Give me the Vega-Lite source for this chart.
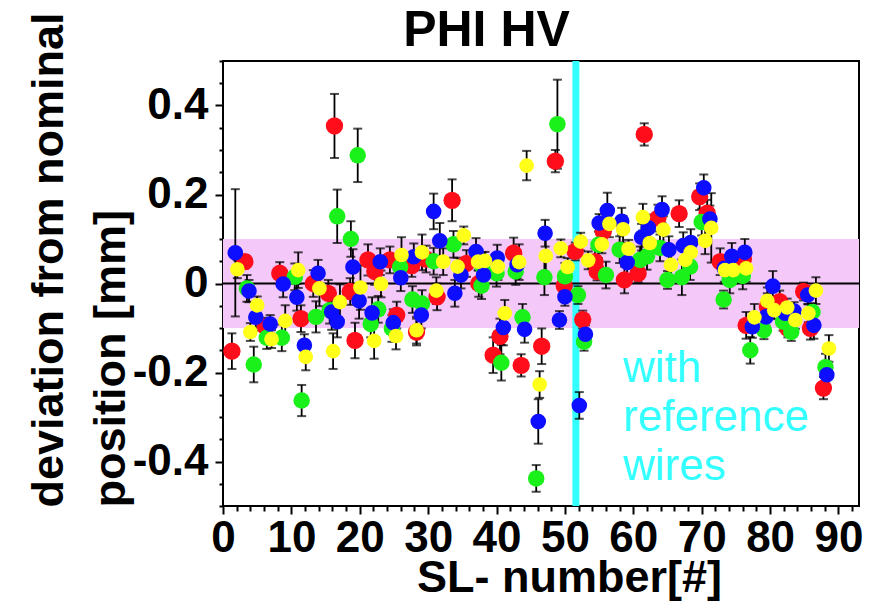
{
  "$schema": "https://vega.github.io/schema/vega-lite/v6.json",
  "width": 636,
  "height": 445,
  "autosize": {"type": "none"},
  "padding": {"left": 223, "top": 61, "right": 28, "bottom": 95},
  "background": "white",
  "config": {"view": {"stroke": "black", "strokeWidth": 2}, "font": "Liberation Sans"},
  "resolve": {"axis": {"x": "independent", "y": "independent"}},
  "datasets": {
    "band": [{"lo": -0.1, "hi": 0.1}],
    "ref": [{"x": 51.6}],
    "zero": [{"y": 0}],
    "note": [{"x": 58.5, "y": -0.221, "t": "with\nreference\nwires"}],
    "pts": [
      {"s":"red","x":1.3,"y":-0.152,"e":0.04},
      {"s":"red","x":3.2,"y":0.049,"e":0.015},
      {"s":"red","x":6.2,"y":-0.097,"e":0.02},
      {"s":"red","x":8.3,"y":0.023,"e":0.025},
      {"s":"red","x":11.4,"y":-0.079,"e":0.03},
      {"s":"red","x":13.2,"y":0.0,"e":0.03},
      {"s":"red","x":15.4,"y":-0.022,"e":0.03},
      {"s":"red","x":16.3,"y":0.354,"e":0.072},
      {"s":"red","x":18.6,"y":-0.018,"e":0.03},
      {"s":"red","x":19.3,"y":-0.128,"e":0.04},
      {"s":"red","x":21.2,"y":0.053,"e":0.035},
      {"s":"red","x":22.2,"y":0.027,"e":0.03},
      {"s":"red","x":24.4,"y":0.053,"e":0.03},
      {"s":"red","x":25.4,"y":-0.071,"e":0.03},
      {"s":"red","x":27.6,"y":0.04,"e":0.025},
      {"s":"red","x":28.3,"y":-0.109,"e":0.03},
      {"s":"red","x":29.7,"y":0.055,"e":0.03},
      {"s":"red","x":31.3,"y":-0.03,"e":0.03},
      {"s":"red","x":33.5,"y":0.187,"e":0.047},
      {"s":"red","x":35.6,"y":0.045,"e":0.03},
      {"s":"red","x":37.4,"y":0.0,"e":0.03},
      {"s":"red","x":39.5,"y":-0.161,"e":0.04},
      {"s":"red","x":40.5,"y":-0.119,"e":0.04},
      {"s":"red","x":42.5,"y":0.068,"e":0.035},
      {"s":"red","x":43.6,"y":-0.184,"e":0.025},
      {"s":"red","x":46.6,"y":-0.141,"e":0.04},
      {"s":"red","x":48.6,"y":0.275,"e":0.025},
      {"s":"red","x":49.9,"y":-0.005,"e":0.03},
      {"s":"red","x":51.5,"y":0.072,"e":0.02},
      {"s":"red","x":52.6,"y":-0.081,"e":0.02},
      {"s":"red","x":54.4,"y":0.049,"e":0.03},
      {"s":"red","x":54.7,"y":0.027,"e":0.02},
      {"s":"red","x":55.6,"y":0.117,"e":0.02},
      {"s":"red","x":58.7,"y":0.008,"e":0.03},
      {"s":"red","x":60.7,"y":0.023,"e":0.02},
      {"s":"red","x":61.6,"y":0.335,"e":0.025},
      {"s":"red","x":63.6,"y":0.147,"e":0.03},
      {"s":"red","x":66.7,"y":0.157,"e":0.03},
      {"s":"red","x":69.7,"y":0.195,"e":0.03},
      {"s":"red","x":70.8,"y":0.158,"e":0.03},
      {"s":"red","x":72.7,"y":0.049,"e":0.03},
      {"s":"red","x":76.1,"y":0.055,"e":0.02},
      {"s":"red","x":76.5,"y":-0.094,"e":0.03},
      {"s":"red","x":79.6,"y":-0.052,"e":0.03},
      {"s":"red","x":81.4,"y":-0.041,"e":0.025},
      {"s":"red","x":82.6,"y":-0.101,"e":0.02},
      {"s":"red","x":84.9,"y":-0.018,"e":0.02},
      {"s":"red","x":85.9,"y":-0.101,"e":0.025},
      {"s":"red","x":87.8,"y":-0.235,"e":0.025},
      {"s":"green","x":3.5,"y":-0.011,"e":0.03},
      {"s":"green","x":4.5,"y":-0.182,"e":0.04},
      {"s":"green","x":6.4,"y":-0.122,"e":0.025},
      {"s":"green","x":8.6,"y":-0.122,"e":0.03},
      {"s":"green","x":10.5,"y":0.015,"e":0.03},
      {"s":"green","x":11.5,"y":-0.263,"e":0.035},
      {"s":"green","x":13.6,"y":-0.075,"e":0.035},
      {"s":"green","x":15.6,"y":-0.06,"e":0.03},
      {"s":"green","x":16.7,"y":0.151,"e":0.06},
      {"s":"green","x":18.7,"y":0.1,"e":0.04},
      {"s":"green","x":19.7,"y":0.288,"e":0.06},
      {"s":"green","x":21.6,"y":-0.091,"e":0.03},
      {"s":"green","x":22.7,"y":-0.058,"e":0.03},
      {"s":"green","x":24.7,"y":-0.101,"e":0.03},
      {"s":"green","x":25.9,"y":0.037,"e":0.03},
      {"s":"green","x":27.7,"y":-0.036,"e":0.03},
      {"s":"green","x":29.1,"y":-0.045,"e":0.03},
      {"s":"green","x":30.8,"y":0.05,"e":0.03},
      {"s":"green","x":33.7,"y":0.088,"e":0.03},
      {"s":"green","x":37.8,"y":-0.005,"e":0.03},
      {"s":"green","x":37.9,"y":0.04,"e":0.03},
      {"s":"green","x":40.0,"y":0.023,"e":0.03},
      {"s":"green","x":40.7,"y":-0.178,"e":0.04},
      {"s":"green","x":42.8,"y":0.027,"e":0.03},
      {"s":"green","x":43.8,"y":-0.076,"e":0.03},
      {"s":"green","x":45.8,"y":-0.438,"e":0.03},
      {"s":"green","x":47.0,"y":0.014,"e":0.04},
      {"s":"green","x":48.9,"y":0.358,"e":0.1},
      {"s":"green","x":50.0,"y":0.016,"e":0.03},
      {"s":"green","x":51.9,"y":-0.026,"e":0.02},
      {"s":"green","x":52.8,"y":-0.131,"e":0.02},
      {"s":"green","x":54.9,"y":0.087,"e":0.03},
      {"s":"green","x":56.0,"y":0.019,"e":0.03},
      {"s":"green","x":58.0,"y":0.076,"e":0.03},
      {"s":"green","x":61.0,"y":0.053,"e":0.03},
      {"s":"green","x":62.0,"y":0.061,"e":0.03},
      {"s":"green","x":63.9,"y":0.08,"e":0.03},
      {"s":"green","x":65.0,"y":0.008,"e":0.02},
      {"s":"green","x":67.1,"y":0.014,"e":0.04},
      {"s":"green","x":68.3,"y":0.038,"e":0.03},
      {"s":"green","x":70.0,"y":0.138,"e":0.03},
      {"s":"green","x":73.2,"y":-0.036,"e":0.02},
      {"s":"green","x":74.1,"y":0.008,"e":0.03},
      {"s":"green","x":76.0,"y":0.017,"e":0.03},
      {"s":"green","x":77.1,"y":-0.15,"e":0.03},
      {"s":"green","x":79.1,"y":-0.105,"e":0.02},
      {"s":"green","x":81.9,"y":-0.086,"e":0.02},
      {"s":"green","x":83.1,"y":-0.109,"e":0.02},
      {"s":"green","x":86.2,"y":-0.064,"e":0.02},
      {"s":"green","x":88.1,"y":-0.188,"e":0.03},
      {"s":"blue","x":1.8,"y":0.069,"e":0.143},
      {"s":"blue","x":3.8,"y":-0.017,"e":0.025},
      {"s":"blue","x":4.8,"y":-0.076,"e":0.03},
      {"s":"blue","x":6.9,"y":-0.091,"e":0.02},
      {"s":"blue","x":8.8,"y":-0.001,"e":0.03},
      {"s":"blue","x":10.8,"y":-0.031,"e":0.03},
      {"s":"blue","x":11.9,"y":-0.139,"e":0.025},
      {"s":"blue","x":13.9,"y":0.023,"e":0.03},
      {"s":"blue","x":15.9,"y":-0.064,"e":0.04},
      {"s":"blue","x":16.7,"y":-0.086,"e":0.035},
      {"s":"blue","x":19.0,"y":0.037,"e":0.04},
      {"s":"blue","x":19.9,"y":-0.039,"e":0.04},
      {"s":"blue","x":21.8,"y":-0.066,"e":0.035},
      {"s":"blue","x":23.0,"y":0.049,"e":0.03},
      {"s":"blue","x":24.9,"y":-0.088,"e":0.03},
      {"s":"blue","x":26.0,"y":0.013,"e":0.03},
      {"s":"blue","x":27.9,"y":0.06,"e":0.03},
      {"s":"blue","x":29.0,"y":-0.071,"e":0.03},
      {"s":"blue","x":30.8,"y":0.162,"e":0.04},
      {"s":"blue","x":31.7,"y":0.096,"e":0.04},
      {"s":"blue","x":33.9,"y":-0.022,"e":0.03},
      {"s":"blue","x":34.8,"y":0.019,"e":0.03},
      {"s":"blue","x":37.0,"y":0.072,"e":0.03},
      {"s":"blue","x":38.1,"y":0.019,"e":0.03},
      {"s":"blue","x":40.1,"y":0.057,"e":0.03},
      {"s":"blue","x":41.0,"y":-0.099,"e":0.04},
      {"s":"blue","x":43.0,"y":0.042,"e":0.03},
      {"s":"blue","x":44.1,"y":-0.103,"e":0.03},
      {"s":"blue","x":46.1,"y":-0.31,"e":0.05},
      {"s":"blue","x":47.1,"y":0.113,"e":0.03},
      {"s":"blue","x":49.2,"y":-0.082,"e":0.02},
      {"s":"blue","x":50.0,"y":-0.03,"e":0.02},
      {"s":"blue","x":52.1,"y":-0.274,"e":0.03},
      {"s":"blue","x":53.0,"y":-0.114,"e":0.02},
      {"s":"blue","x":55.0,"y":0.136,"e":0.02},
      {"s":"blue","x":56.2,"y":0.164,"e":0.04},
      {"s":"blue","x":58.3,"y":0.14,"e":0.03},
      {"s":"blue","x":59.1,"y":0.047,"e":0.03},
      {"s":"blue","x":61.2,"y":0.104,"e":0.03},
      {"s":"blue","x":62.2,"y":0.125,"e":0.03},
      {"s":"blue","x":64.2,"y":0.166,"e":0.03},
      {"s":"blue","x":65.2,"y":0.076,"e":0.03},
      {"s":"blue","x":67.3,"y":0.085,"e":0.03},
      {"s":"blue","x":68.4,"y":0.092,"e":0.03},
      {"s":"blue","x":70.3,"y":0.215,"e":0.03},
      {"s":"blue","x":71.2,"y":0.145,"e":0.03},
      {"s":"blue","x":73.3,"y":0.034,"e":0.03},
      {"s":"blue","x":74.4,"y":0.061,"e":0.03},
      {"s":"blue","x":76.3,"y":0.07,"e":0.03},
      {"s":"blue","x":77.4,"y":-0.097,"e":0.025},
      {"s":"blue","x":79.4,"y":-0.075,"e":0.02},
      {"s":"blue","x":80.4,"y":-0.006,"e":0.034},
      {"s":"blue","x":82.2,"y":-0.067,"e":0.02},
      {"s":"blue","x":83.5,"y":-0.062,"e":0.02},
      {"s":"blue","x":85.5,"y":-0.026,"e":0.02},
      {"s":"blue","x":86.4,"y":-0.094,"e":0.03},
      {"s":"blue","x":88.3,"y":-0.205,"e":0.03},
      {"s":"yellow","x":2.1,"y":0.032,"e":0.02},
      {"s":"yellow","x":4.0,"y":-0.109,"e":0.02},
      {"s":"yellow","x":5.0,"y":-0.049,"e":0.02},
      {"s":"yellow","x":7.1,"y":-0.125,"e":0.02},
      {"s":"yellow","x":9.1,"y":-0.084,"e":0.035},
      {"s":"yellow","x":11.0,"y":0.03,"e":0.04},
      {"s":"yellow","x":12.1,"y":-0.165,"e":0.03},
      {"s":"yellow","x":14.1,"y":-0.011,"e":0.04},
      {"s":"yellow","x":16.1,"y":-0.152,"e":0.04},
      {"s":"yellow","x":17.1,"y":-0.042,"e":0.04},
      {"s":"yellow","x":20.1,"y":-0.009,"e":0.05},
      {"s":"yellow","x":22.1,"y":-0.129,"e":0.04},
      {"s":"yellow","x":23.1,"y":-0.001,"e":0.03},
      {"s":"yellow","x":25.3,"y":-0.118,"e":0.03},
      {"s":"yellow","x":26.1,"y":0.064,"e":0.04},
      {"s":"yellow","x":28.3,"y":-0.105,"e":0.03},
      {"s":"yellow","x":29.1,"y":0.07,"e":0.04},
      {"s":"yellow","x":31.2,"y":-0.016,"e":0.03},
      {"s":"yellow","x":32.2,"y":0.049,"e":0.03},
      {"s":"yellow","x":34.3,"y":0.038,"e":0.02},
      {"s":"yellow","x":35.2,"y":0.108,"e":0.02},
      {"s":"yellow","x":37.3,"y":0.049,"e":0.02},
      {"s":"yellow","x":38.3,"y":0.051,"e":0.02},
      {"s":"yellow","x":40.2,"y":0.038,"e":0.03},
      {"s":"yellow","x":41.2,"y":-0.067,"e":0.03},
      {"s":"yellow","x":43.3,"y":0.048,"e":0.04},
      {"s":"yellow","x":44.4,"y":0.265,"e":0.033},
      {"s":"yellow","x":46.3,"y":-0.227,"e":0.03},
      {"s":"yellow","x":47.2,"y":0.062,"e":0.04},
      {"s":"yellow","x":49.4,"y":0.079,"e":0.02},
      {"s":"yellow","x":50.4,"y":0.037,"e":0.02},
      {"s":"yellow","x":52.3,"y":0.094,"e":0.02},
      {"s":"yellow","x":53.4,"y":0.052,"e":0.02},
      {"s":"yellow","x":55.4,"y":0.088,"e":0.02},
      {"s":"yellow","x":56.5,"y":0.134,"e":0.03},
      {"s":"yellow","x":58.5,"y":0.122,"e":0.03},
      {"s":"yellow","x":59.3,"y":0.078,"e":0.02},
      {"s":"yellow","x":61.4,"y":0.149,"e":0.03},
      {"s":"yellow","x":62.4,"y":0.091,"e":0.03},
      {"s":"yellow","x":64.4,"y":0.121,"e":0.03},
      {"s":"yellow","x":65.5,"y":0.042,"e":0.03},
      {"s":"yellow","x":67.6,"y":0.053,"e":0.04},
      {"s":"yellow","x":68.4,"y":0.07,"e":0.03},
      {"s":"yellow","x":70.5,"y":0.096,"e":0.03},
      {"s":"yellow","x":71.4,"y":0.125,"e":0.078},
      {"s":"yellow","x":73.4,"y":0.03,"e":0.03},
      {"s":"yellow","x":74.6,"y":0.03,"e":0.03},
      {"s":"yellow","x":76.5,"y":0.034,"e":0.03},
      {"s":"yellow","x":77.7,"y":-0.076,"e":0.03},
      {"s":"yellow","x":79.6,"y":-0.039,"e":0.03},
      {"s":"yellow","x":80.6,"y":-0.06,"e":0.02},
      {"s":"yellow","x":82.5,"y":-0.054,"e":0.02},
      {"s":"yellow","x":83.7,"y":-0.082,"e":0.02},
      {"s":"yellow","x":85.6,"y":-0.067,"e":0.02},
      {"s":"yellow","x":86.7,"y":-0.016,"e":0.03},
      {"s":"yellow","x":88.6,"y":-0.146,"e":0.03}
    ]
  },
  "layer": [
    {
      "data": {"name": "band"},
      "mark": {"type": "rect", "color": "#f4c8f8"},
      "encoding": {
        "y": {"field": "lo", "type": "quantitative", "axis": null},
        "y2": {"field": "hi"}
      }
    },
    {
      "data": {"name": "ref"},
      "mark": {"type": "rule", "color": "#33ffff", "strokeWidth": 7},
      "encoding": {
        "x": {
          "field": "x", "type": "quantitative",
          "axis": {
            "orient": "top", "labels": false, "ticks": false, "domain": false, "grid": false,
            "title": "PHI HV", "titleFont": "Liberation Sans", "titleFontSize": 50, "titleFontWeight": "bold", "titleColor": "black",
            "titleX": 263, "titleY": -16, "titleBaseline": "alphabetic", "titleAlign": "center", "titleAngle": 0
          }
        }
      }
    },
    {
      "data": {"name": "zero"},
      "mark": {"type": "rule", "color": "black", "strokeWidth": 2},
      "encoding": {
        "y": {"field": "y", "type": "quantitative", "axis": null}
      }
    },
    {
      "data": {"name": "pts"},
      "mark": {"type": "errorbar", "color": "black", "ticks": {"size": 9, "thickness": 2, "color": "black"}, "rule": {"strokeWidth": 1.8, "color": "black"}},
      "encoding": {
        "x": {"field": "x", "type": "quantitative", "axis": null},
        "y": {"field": "y", "type": "quantitative", "axis": null},
        "yError": {"field": "e"}
      }
    },
    {
      "data": {"name": "pts"},
      "mark": {"type": "circle", "opacity": 1},
      "encoding": {
        "x": {
          "field": "x", "type": "quantitative",
          "scale": {"domain": [0, 93], "nice": false, "zero": false},
          "axis": {
            "values": [0,2,4,6,8,10,12,14,16,18,20,22,24,26,28,30,32,34,36,38,40,42,44,46,48,50,52,54,56,58,60,62,64,66,68,70,72,74,76,78,80,82,84,86,88,90,92],
            "labelExpr": "datum.value % 10 === 0 ? datum.label : ''",
            "tickSize": {"condition": {"test": "datum.value % 10 === 0", "value": 8}, "value": 5},
            "tickColor": "black", "tickWidth": 2, "domain": false, "grid": false,
            "labelFont": "Liberation Sans", "labelFontSize": 44, "labelFontWeight": "bold", "labelColor": "black",
            "labelPadding": 2, "labelFlush": false, "labelOverlap": false, "labelBound": false,
            "title": "SL- number[#]", "titleFont": "Liberation Sans", "titleFontSize": 45, "titleFontWeight": "bold", "titleColor": "black",
            "titleX": 346, "titleY": 85, "titleBaseline": "alphabetic", "titleAlign": "center"
          }
        },
        "y": {
          "field": "y", "type": "quantitative",
          "scale": {"domain": [-0.5, 0.5], "nice": false, "zero": false},
          "axis": {
            "values": [-0.5,-0.45,-0.4,-0.35,-0.3,-0.25,-0.2,-0.15,-0.1,-0.05,0,0.05,0.1,0.15,0.2,0.25,0.3,0.35,0.4,0.45,0.5],
            "labelExpr": "abs(round(datum.value*100)) % 20 !== 0 || abs(datum.value) > 0.45 ? '' : (abs(datum.value) < 0.001 ? '0' : (datum.value < 0 ? '-' : '') + format(abs(datum.value), '.1f'))",
            "tickSize": {"condition": {"test": "abs(round(datum.value*100)) % 20 === 0", "value": 8}, "value": 4},
            "tickColor": "black", "tickWidth": 2, "domain": false, "grid": false,
            "labelFont": "Liberation Sans", "labelFontSize": 44, "labelFontWeight": "bold", "labelColor": "black",
            "labelPadding": 7, "labelOverlap": false, "labelBound": false, "labelFlush": false,
            "title": ["deviation from nominal", "position [mm]"],
            "titleFont": "Liberation Sans", "titleFontSize": 45, "titleFontWeight": "bold", "titleColor": "black",
            "titleAngle": 270, "titleAlign": "left", "titleBaseline": "alphabetic",
            "titleX": -161, "titleY": 446, "titleLineHeight": 62
          }
        },
        "color": {"field": "s", "type": "nominal", "scale": {"domain": ["red", "green", "blue", "yellow"], "range": ["#ff0d1a", "#1af01a", "#0d0dff", "#ffff1a"]}, "legend": null},
        "size": {"field": "s", "type": "nominal", "scale": {"domain": ["red", "green", "blue", "yellow"], "range": [300, 215, 155, 110]}, "legend": null}
      }
    },
    {
      "data": {"name": "note"},
      "mark": {"type": "text", "color": "#33ffff", "font": "Liberation Sans", "fontSize": 44, "align": "left", "baseline": "alphabetic", "lineBreak": "\n", "lineHeight": 49},
      "encoding": {
        "x": {"field": "x", "type": "quantitative", "axis": null},
        "y": {"field": "y", "type": "quantitative", "axis": null},
        "text": {"field": "t"}
      }
    }
  ]
}
